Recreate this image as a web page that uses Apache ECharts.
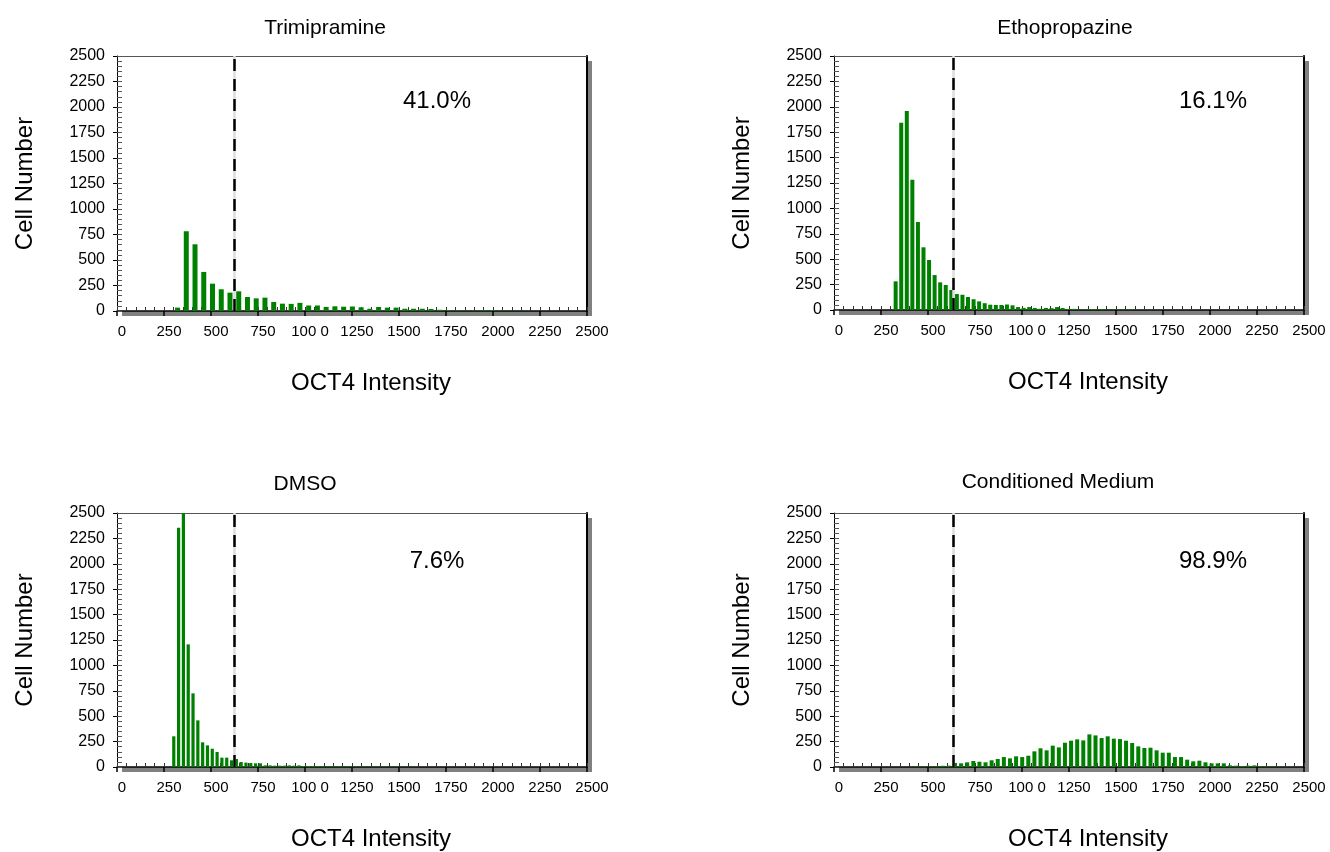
<!DOCTYPE html>
<html>
<head>
<meta charset="utf-8">
<title>OCT4 Intensity</title>
<script src="https://cdn.jsdelivr.net/npm/echarts@6/dist/echarts.min.js"></script>
<style>
	html, body { margin: 0; padding: 0; background: #fff; }
	#chart { width: 1330px; height: 852px; }
</style>
</head>
<body>
<div id="chart"></div>
<script>
// panel texts
var panelNames = ["Trimipramine", "Ethopropazine", "DMSO", "Conditioned Medium"];
var percentLabels = ["41.0%", "16.1%", "7.6%", "98.9%"];
var xTickLabels = ["0", "250", "500", "750", "100 0", "1250", "1500", "1750", "2000", "2250", "2500"];

// histogram bins (OCT4 intensity) and threshold
var cutoffs = [625, 635, 625, 635];
var binStarts = [322, 328, 302, 416];
var binSteps = [46.5, 29.6, 25.6, 32.5];

// cell counts per bin
var trimipramineCounts = [33, 782, 654, 383, 268, 213, 180, 193, 137, 124, 131, 88, 72, 70, 80, 54, 54, 40, 46, 42,
	44, 36, 22, 39, 33, 33, 22, 22, 22, 20, 12, 8, 8, 4, 4, 8, 8, 3, 3, 3, 3, 2, 2, 2, 2, 1, 1];
var ethopropazineCounts = [282, 1844, 1959, 1283, 866, 617, 492, 344, 272, 246, 197, 157, 150, 128, 106, 85, 67, 52, 50, 49,
	54, 46, 29, 21, 29, 20, 12, 20, 18, 29, 20, 10, 11, 3, 3, 10, 3, 7, 3, 2, 7, 3, 7, 3, 2, 2, 2, 2, 2, 1,
	1, 1, 1, 1, 1, 1, 1, 1];
var dmsoCounts = [302, 2356, 2540, 1207, 725, 459, 243, 213, 180, 148, 92, 92, 66, 79, 49, 43, 39, 36, 36, 16,
	16, 13, 13, 13, 16, 13, 16, 10, 10, 8, 8, 10, 6, 6, 8, 5, 5, 4, 4, 5, 3, 3, 3, 2, 3, 2, 2, 2, 2, 2,
	2, 2, 1, 1, 1, 1, 1, 1, 1, 1];
var conditionedCounts = [2, 3, 3, 5, 6, 12, 13, 40, 36, 46, 59, 52, 46, 66, 79, 98, 85, 105, 98, 111,
	154, 184, 164, 210, 193, 239, 259, 272, 262, 321, 311, 285, 302, 279, 275, 259, 236, 203, 187, 190,
	164, 141, 141, 98, 98, 72, 56, 62, 46, 36, 36, 36, 16, 13, 10, 13, 16, 7, 7, 3, 3, 2, 2];

var panelCounts = [trimipramineCounts, ethopropazineCounts, dmsoCounts, conditionedCounts];

// layout
var FONT = "'Liberation Sans', Arial, sans-serif";
var grids = [
	{ left: 117, top: 56, width: 470, height: 255 },
	{ left: 834, top: 56, width: 470, height: 254 },
	{ left: 117, top: 513, width: 470, height: 254 },
	{ left: 834, top: 513, width: 470, height: 254 }
];
var barWidths = [5, 4, 3.2, 4];
var titlePos = [[325, 28], [1065, 28], [305, 484], [1058, 482]];
var percentPos = [[437, 101], [1213, 101], [437, 561], [1213, 561]];

function histogramData(start, step, counts) {
	return counts.map(function (c, i) {
		return [start + step * i, c];
	});
}

function frameAxis(gridIndex, position, color, width) {
	return {
		type: "value", gridIndex: gridIndex, min: 0, max: 2500, position: position,
		axisLine: { show: true, onZero: false, lineStyle: { color: color, width: width } },
		axisTick: { show: false },
		axisLabel: { show: false },
		splitLine: { show: false }
	};
}

function buildOptions() {
	var grid = [], xAxis = [], yAxis = [], series = [], graphic = [];

	grids.forEach(function (g, i) {
		// white plot box with a hard grey drop shadow
		grid.push({
			left: g.left, top: g.top, width: g.width, height: g.height,
			show: true,
			backgroundColor: "#fff",
			borderWidth: 0,
			shadowColor: "#808080",
			shadowBlur: 0,
			shadowOffsetX: 5,
			shadowOffsetY: 5
		});

		// major x axis, labels
		xAxis.push({
			type: "value", gridIndex: i, min: 0, max: 2500, interval: 250, position: "bottom",
			axisLine: { onZero: false, lineStyle: { color: "#000", width: 1.5 } },
			axisTick: { length: 5, lineStyle: { color: "#000", width: 1.5 } },
			axisLabel: {
				color: "#000", fontFamily: FONT, fontSize: 15, margin: 13,
				padding: [0, 0, 0, 10],
				formatter: function (v) { return xTickLabels[Math.round(v / 250)]; }
			},
			splitLine: { show: false },
			name: "OCT4 Intensity",
			nameLocation: "middle",
			nameGap: 60,
			nameTextStyle: { color: "#000", fontFamily: FONT, fontSize: 24, padding: [0, 0, 0, 38] }
		});
		// minor x ticks, inside
		xAxis.push({
			type: "value", gridIndex: i, min: 0, max: 2500, interval: 50, position: "bottom",
			axisLine: { show: false, onZero: false },
			axisTick: { inside: true, length: 4, lineStyle: { color: "#333" } },
			axisLabel: { show: false },
			splitLine: { show: false }
		});
		xAxis.push(frameAxis(i, "top", "#555", 1));

		yAxis.push({
			type: "value", gridIndex: i, min: 0, max: 2500, interval: 250, position: "left",
			axisLine: { show: true, onZero: false, lineStyle: { color: "#000", width: 1 } },
			axisTick: { show: true, length: 4, lineStyle: { color: "#000" } },
			axisLabel: {
				color: "#000", fontFamily: FONT, fontSize: 16, margin: 12,
				formatter: function (v) { return String(v); }
			},
			splitLine: { show: false },
			name: "Cell Number",
			nameLocation: "middle",
			nameGap: 80,
			nameTextStyle: { color: "#000", fontFamily: FONT, fontSize: 24 }
		});
		yAxis.push({
			type: "value", gridIndex: i, min: 0, max: 2500, interval: 50, position: "left",
			axisLine: { show: false, onZero: false },
			axisTick: { show: true, inside: true, length: 5, lineStyle: { color: "#555" } },
			axisLabel: { show: false },
			splitLine: { show: false }
		});
		yAxis.push(frameAxis(i, "right", "#000", 2));

		series.push({
			type: "bar",
			xAxisIndex: i * 3,
			yAxisIndex: i * 3,
			barWidth: barWidths[i],
			itemStyle: { color: "#008000" },
			data: histogramData(binStarts[i], binSteps[i], panelCounts[i]),
			markLine: {
				silent: true,
				symbol: "none",
				label: { show: false },
				animation: false,
				data: [
					{ xAxis: cutoffs[i], lineStyle: { color: "#ddd", type: "solid", width: 2.5 } },
					{ xAxis: cutoffs[i], lineStyle: { color: "#000", type: [12, 8], width: 2.5 } }
				]
			}
		});

		graphic.push({
			type: "text", x: titlePos[i][0], y: titlePos[i][1],
			style: { text: panelNames[i], fill: "#000", font: "21px " + FONT, align: "center", verticalAlign: "middle" }
		});
		graphic.push({
			type: "text", x: percentPos[i][0], y: percentPos[i][1],
			style: { text: percentLabels[i], fill: "#000", font: "24px " + FONT, align: "center", verticalAlign: "middle" }
		});
	});

	return {
		animation: false,
		backgroundColor: "#fff",
		grid: grid,
		xAxis: xAxis,
		yAxis: yAxis,
		series: series,
		graphic: graphic
	};
}

var instance = echarts.init(document.getElementById("chart"));
instance.setOption(buildOptions());
</script>
</body>
</html>
